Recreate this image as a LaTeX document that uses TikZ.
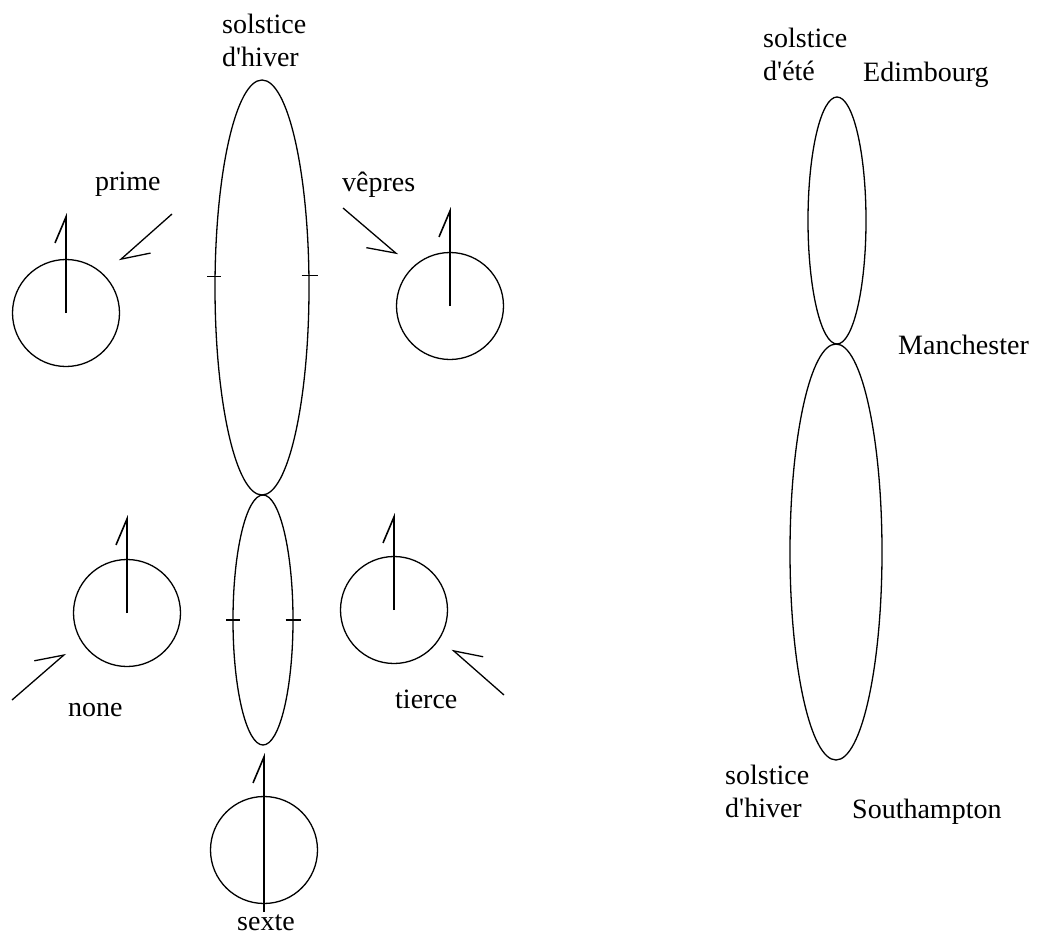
\documentclass[tikz,border=0pt]{standalone}
\usepackage{fontspec}
\setmainfont{Liberation Serif}[Ligatures=TeXOff]
\usetikzlibrary{shapes.geometric,arrows.meta}
\tikzstyle{orbit} = [ellipse, draw=black, inner sep=0pt, line width=1.3pt]
\tikzstyle{clock} = [circle, draw=black, minimum size=107pt, inner sep=0pt, line width=1.3pt]
\tikzstyle{txt} = [inner sep=0pt, anchor=base west, align=left, font=\fontsize{28}{33}\selectfont]
\tikzstyle{hand} = [line width=1.6pt, -{Straight Barb[harpoon, length=26pt, width=22pt]}]
\tikzstyle{pointer} = [line width=1.3pt, -{Straight Barb[harpoon, length=26pt, width=30pt]}]
\tikzstyle{notch} = [line width=1.6pt]

\begin{document}
\begin{tikzpicture}[x=1pt,y=-1pt]
\useasboundingbox (0,0) rectangle (1040,936);

% left: the day
\node (hiverL) [orbit, minimum width=94pt, minimum height=415pt] at (262,287.5) {};
\node (jourL) [orbit, minimum width=60pt, minimum height=250pt] at (263,620) {};
\node (solL) [txt] at (222,67) {solstice\\d'hiver};
%
\node (prime) [clock] at (66,313) {};
\node (vepres) [clock] at (450,306) {};
\node (none) [clock] at (127,613) {};
\node (tierce) [clock] at (394,610) {};
\node (sexte) [clock] at (264,850) {};
%
\node (primeT) [txt] at (95,190) {prime};
\node (vepresT) [txt] at (342,191) {vêpres};
\node (noneT) [txt] at (68,716) {none};
\node (tierceT) [txt] at (395,708) {tierce};
\node (sexteT) [txt] at (237,930) {sexte};
%
\coordinate (primeA) at (172,214);
\coordinate (vepresA) at (343,208);
\coordinate (noneA) at (12,700);
\coordinate (tierceA) at (504,695);

% right: the year
\node (ete) [orbit, minimum width=58pt, minimum height=247pt] at (837,220.5) {};
\node (hiverR) [orbit, minimum width=92pt, minimum height=416pt] at (836,552) {};
\node (solE) [txt] at (763,81) {solstice\\d'été};
\node (solH) [txt] at (725,817) {solstice\\d'hiver};
\node (edim) [txt] at (863,82) {Edimbourg};
\node (manch) [txt] at (898,354) {Manchester};
\node (south) [txt] at (852,818) {Southampton};

% marks on the day
\draw [notch] ([xshift=-7pt,yshift=11pt]hiverL.west) -- ([xshift=7pt,yshift=11pt]hiverL.west);
\draw [notch] ([xshift=-8pt,yshift=12pt]hiverL.east) -- ([xshift=8pt,yshift=12pt]hiverL.east);
\draw [notch] ([xshift=-6pt]jourL.west) -- ([xshift=8pt]jourL.west);
\draw [notch] ([xshift=-8pt]jourL.east) -- ([xshift=7pt]jourL.east);

% hands
\draw [hand] (prime.center) -- ++(0,-100);
\draw [hand] (vepres.center) -- ++(0,-99);
\draw [hand] (none.center) -- ++(0,-98);
\draw [hand] (tierce.center) -- ++(0,-97);
\draw [hand] ([yshift=-62pt]sexte.center) -- ++(0,-159);

% pointers
\draw [pointer] (primeA) -- ([shift={(15pt,14pt)}]prime.45);
\draw [pointer, -{Straight Barb[harpoon, swap, length=26pt, width=30pt]}] (vepresA) -- ([shift={(-14pt,13pt)}]vepres.135);
\draw [pointer] (noneA) -- ([shift={(-16pt,-11pt)}]none.213);
\draw [pointer, -{Straight Barb[harpoon, swap, length=26pt, width=30pt]}] (tierceA) -- ([shift={(13pt,-9pt)}]tierce.326);
\end{tikzpicture}
\end{document}
